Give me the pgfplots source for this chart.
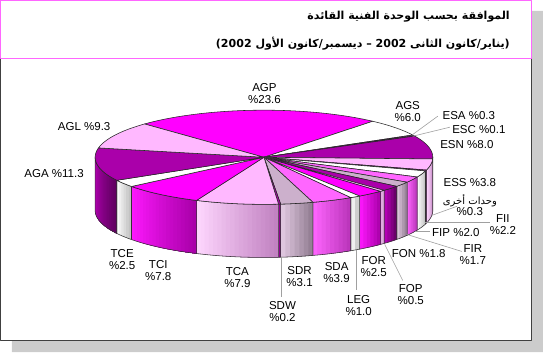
\documentclass[border=0pt]{standalone}
\usepackage{fontspec}
\usepackage{pgfplots}
\pgfplotsset{compat=1.18}
\setmainfont{Liberation Sans}
\newfontfamily\arabicfont[Script=Arabic]{DejaVu Sans}
\TeXXeTstate=1
% six slice colours: top, left and right of the side gradient
\definecolor{MT}{HTML}{FF00FF}\definecolor{ML}{HTML}{FF18FF}\definecolor{MR}{HTML}{A800A8}
\definecolor{WT}{HTML}{FFFFFF}\definecolor{WL}{HTML}{FFFFFF}\definecolor{WR}{HTML}{BEBEBE}
\definecolor{PT}{HTML}{FF66FF}\definecolor{PL}{HTML}{FF66FF}\definecolor{PR}{HTML}{B833B8}
\definecolor{GT}{HTML}{CCB0CC}\definecolor{GL}{HTML}{E4CCE4}\definecolor{GR}{HTML}{8F7A8F}
\definecolor{DT}{HTML}{AA00AA}\definecolor{DL}{HTML}{C000C0}\definecolor{DR}{HTML}{5F005F}
\definecolor{LT}{HTML}{FFB8FF}\definecolor{LL}{HTML}{FFD8FF}\definecolor{LR}{HTML}{C080C0}
\definecolor{shadow}{HTML}{CCCCCC}
\definecolor{titlebox}{HTML}{FF66FF}
\definecolor{leader}{HTML}{A0A0A0}
\def\slicedata{23.6/M,6.0/W,0.3/P,0.1/G,8.0/D,3.8/L,0.3/M,2.2/W,2.0/P,1.7/G,1.8/D,0.5/L,2.5/M,1.0/W,3.9/P,3.1/G,0.2/D,7.9/L,7.8/M,2.5/W,11.3/D,9.3/L}
\def\total{99.8}\def\startang{135}
\def\cx{264.5}\def\cy{158}\def\rx{168.5}\def\ry{47}\def\depth{53}
\newcommand\AppendArc[4]{% from, to, steps, vertical offset
  \foreach \i in {0,...,#3}{%
    \pgfmathsetmacro\tt{#1+(#2-(#1))*\i/#3}%
    \pgfmathsetmacro\XX{\cx+\rx*cos(\tt)}%
    \pgfmathsetmacro\YY{\cy-\ry*sin(\tt)+#4}%
    \xdef\ptlist{\ptlist (\XX,\YY)}%
  }}
\newcommand\lab[3]{\node[align=center,inner sep=0pt,font=\fontsize{11.5}{12}\selectfont] at (axis cs:#1,#2) {#3};}
\newcommand\lead[4]{\addplot[leader,line width=0.6pt] coordinates {(#1,#2) (#3,#4)};}
\begin{document}
\begin{tikzpicture}
\begin{axis}[scale only axis,width=543pt,height=353pt,xmin=0,xmax=543,ymin=0,ymax=353,
  y dir=reverse,axis lines=none,clip=false,enlargelimits=false,line join=round]
% frame
\addplot[fill=shadow,draw=none] coordinates {(531,12) (543,12) (543,352.5) (13,352.5) (13,341) (531,341)} --cycle;
\addplot[fill=white,draw=black!75,line width=0.9pt] coordinates {(1.5,59) (531,59) (531,341) (1.5,341)} --cycle;
\addplot[fill=white,draw=titlebox,line width=0.9pt] coordinates {(1.5,1.5) (531,1.5) (531,59) (1.5,59)} --cycle;
% sides: each band is painted from its left edge to the right end of the slice, so no seams show
\xdef\cum{0}
\foreach \v/\c in \slicedata {%
  \pgfmathsetmacro\sa{\startang-360*(\cum/\total)}%
  \pgfmathsetmacro\newcum{\cum+\v}\xdef\cum{\newcum}%
  \pgfmathsetmacro\ea{\startang-360*(\cum/\total)}%
  \pgfmathsetmacro\hi{min(\sa,0)}%
  \pgfmathsetmacro\lo{max(\ea,-180)}%
  \pgfmathtruncatemacro\vis{\hi>\lo ? 1 : 0}%
  \ifnum\vis=1
    \pgfmathtruncatemacro\nb{max(1,round((\hi-\lo)/1.5))}%
    \pgfmathtruncatemacro\nbm{\nb-1}%
    \pgfmathtruncatemacro\ns{max(2,round((\hi-\lo)/2))}%
    \foreach \k in {0,...,\nbm}{%
      \pgfmathsetmacro\aa{\lo+(\hi-\lo)*\k/\nb}%
      \pgfmathsetmacro\pct{100-100*(\k+0.5)/\nb}%
      \xdef\ptlist{}%
      \AppendArc{\aa}{\hi}{\ns}{0}%
      \AppendArc{\hi}{\aa}{\ns}{\depth}%
      \edef\temp{\noexpand\addplot[fill={\c L!\pct!\c R},draw=none] coordinates {\ptlist} --cycle;}%
      \temp
    }%
    \xdef\ptlist{}%
    \AppendArc{\lo}{\hi}{\ns}{0}%
    \AppendArc{\hi}{\lo}{\ns}{\depth}%
    \edef\temp{\noexpand\addplot[draw=black!80,line width=0.55pt] coordinates {\ptlist} --cycle;}%
    \temp
  \fi
}
% tops
\xdef\cum{0}
\foreach \v/\c in \slicedata {%
  \pgfmathsetmacro\sa{\startang-360*(\cum/\total)}%
  \pgfmathsetmacro\newcum{\cum+\v}\xdef\cum{\newcum}%
  \pgfmathsetmacro\ea{\startang-360*(\cum/\total)}%
  \pgfmathtruncatemacro\ns{max(2,round((\sa-\ea)/2))}%
  \xdef\ptlist{(\cx,\cy)}%
  \AppendArc{\sa}{\ea}{\ns}{0}%
  \edef\temp{\noexpand\addplot[fill=\c T,draw=black!85,line width=0.55pt] coordinates {\ptlist} --cycle;}%
  \temp
}
% leader lines
\lead{412}{136}{438}{117}
\lead{413}{137}{450}{128}
\lead{432}{216}{457}{207}
\lead{425}{223}{490}{223}
\lead{415}{232}{430}{232}
\lead{407}{235}{462}{252}
\lead{385}{245}{403}{281}
\lead{357}{251}{357}{290}
\lead{282}{258}{282}{297}
% labels
\lab{265}{94}{AGP\\\%23.6}
\lab{408}{112}{AGS\\\%6.0}
\lab{469}{116}{ESA \%0.3}
\lab{479}{130}{ESC \%0.1}
\lab{467}{145}{ESN \%8.0}
\lab{470}{183}{ESS \%3.8}
\node[inner sep=0pt,font=\fontsize{10}{12}\selectfont] at (axis cs:470,201) {\arabicfont\beginR وحدات أخرى\endR};
\lab{470}{212}{\%0.3}
\lab{503}{225}{FII\\\%2.2}
\lab{456}{233}{FIP \%2.0}
\lab{473}{255}{FIR\\\%1.7}
\lab{419}{254}{FON \%1.8}
\lab{411}{295}{FOP\\\%0.5}
\lab{374}{267}{FOR\\\%2.5}
\lab{359}{306}{LEG\\\%1.0}
\lab{337}{273}{SDA\\\%3.9}
\lab{300}{277}{SDR\\\%3.1}
\lab{283}{312}{SDW\\\%0.2}
\lab{238}{278}{TCA\\\%7.9}
\lab{159}{271}{TCI\\\%7.8}
\lab{123}{260}{TCE\\\%2.5}
\lab{55}{174}{AGA \%11.3}
\lab{85}{127}{AGL \%9.3}
% title
\node[anchor=east,inner sep=0pt,font=\fontsize{11}{13}\selectfont] at (axis cs:510,18) {\arabicfont\bfseries\beginR الموافقة بحسب الوحدة الفنية القائدة\endR};
\node[anchor=east,inner sep=0pt,font=\fontsize{11}{13}\selectfont] at (axis cs:510,45) {\arabicfont\bfseries\beginR (يناير/كانون الثانى \beginL 2002\endL{} – ديسمبر/كانون الأول \beginL 2002\endL{})\endR};
\end{axis}
\end{tikzpicture}
\end{document}
